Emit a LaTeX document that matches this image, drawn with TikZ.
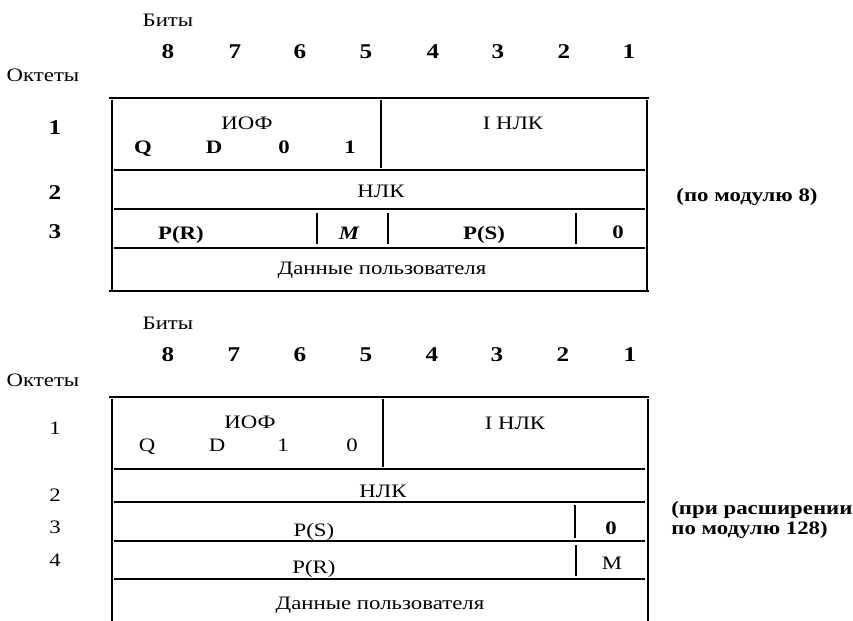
\documentclass[tikz,border=0pt]{standalone}
\usepackage{fontspec}
\setmainfont{Liberation Serif}[FakeStretch=1.2]
\tikzset{
    frameline/.style={line width=1.1pt},
    rowline/.style={line width=0.9pt},
    lbl/.style={inner sep=0pt, text height=0.66em, text depth=0pt, font=\fontsize{9.5}{11}\selectfont},
    blbl/.style={lbl, font=\fontsize{9.5}{11}\selectfont\bfseries},
    bitnum/.style={lbl, font=\fontsize{10.5}{12}\selectfont\bfseries},
}
\begin{document}
\begin{tikzpicture}[x=0.5pt, y=-0.5pt]
        \useasboundingbox (0, 0) rectangle (853, 621);
        %first table: headings
        \node[lbl] (bityA) at (168, 20) {Биты};
        \node[lbl] (oktA) at (43, 75) {Октеты};
        \node[bitnum] (bA8) at (168, 52) {8};
        \node[bitnum] (bA7) at (235, 52) {7};
        \node[bitnum] (bA6) at (300, 52) {6};
        \node[bitnum] (bA5) at (366, 52) {5};
        \node[bitnum] (bA4) at (433, 52) {4};
        \node[bitnum] (bA3) at (498, 52) {3};
        \node[bitnum] (bA2) at (564, 52) {2};
        \node[bitnum] (bA1) at (629, 52) {1};
        %first table: frame and rows
        \draw[frameline] (109, 98) -- (649, 98);
        \draw[frameline] (112, 100) -- (112, 291);
        \draw[frameline] (647, 100) -- (647, 291);
        \draw[frameline] (109, 291) -- (649, 291);
        \draw[rowline] (114, 170) -- (645, 170);
        \draw[rowline] (114, 209) -- (645, 209);
        \draw[rowline] (114, 248) -- (645, 248);
        \draw[rowline] (381, 100) -- (381, 168);
        \draw[rowline] (317, 213) -- (317, 244);
        \draw[rowline] (388, 213) -- (388, 244);
        \draw[rowline] (576, 213) -- (576, 244);
        %first table: octet numbers
        \node[bitnum] (oA1) at (55, 128) {1};
        \node[bitnum] (oA2) at (55, 193) {2};
        \node[bitnum] (oA3) at (55, 232) {3};
        %first table: fields
        \node[lbl] (iofA) at (247, 123) {ИОФ};
        \node[blbl] (qA) at (143, 147) {Q};
        \node[blbl] (dA) at (214, 147) {D};
        \node[blbl] (zA) at (284, 147) {0};
        \node[blbl] (eA) at (350, 147) {1};
        \node[lbl] (inlkA) at (513, 123) {I НЛК};
        \node[lbl] (nlkA) at (381, 191) {НЛК};
        \node[blbl] (prA) at (181, 233) {P(R)};
        \node[blbl] (mA) at (349, 233) {\itshape M};
        \node[blbl] (psA) at (484, 233) {P(S)};
        \node[blbl] (nA) at (618, 232) {0};
        \node[lbl] (dataA) at (382, 268) {Данные пользователя};
        \node[blbl] (modA) at (747, 195) {(по модулю 8)};
        %second table: headings
        \node[lbl] (bityB) at (168, 323) {Биты};
        \node[lbl] (oktB) at (43, 380) {Октеты};
        \node[bitnum] (bB8) at (168, 355) {8};
        \node[bitnum] (bB7) at (234, 355) {7};
        \node[bitnum] (bB6) at (300, 355) {6};
        \node[bitnum] (bB5) at (366, 355) {5};
        \node[bitnum] (bB4) at (432, 355) {4};
        \node[bitnum] (bB3) at (497, 355) {3};
        \node[bitnum] (bB2) at (563, 355) {2};
        \node[bitnum] (bB1) at (630, 355) {1};
        %second table: frame and rows
        \draw[frameline] (109, 397) -- (649, 397);
        \draw[frameline] (112, 399) -- (112, 621);
        \draw[frameline] (648, 399) -- (648, 621);
        \draw[rowline] (114, 469) -- (645, 469);
        \draw[rowline] (114, 502) -- (645, 502);
        \draw[rowline] (114, 541) -- (645, 541);
        \draw[rowline] (114, 579) -- (645, 579);
        \draw[rowline] (383, 399) -- (383, 467);
        \draw[rowline] (575, 505) -- (575, 538);
        \draw[rowline] (576, 545) -- (576, 576);
        %second table: octet numbers
        \node[lbl] (oB1) at (55, 428) {1};
        \node[lbl] (oB2) at (55, 495) {2};
        \node[lbl] (oB3) at (55, 527) {3};
        \node[lbl] (oB4) at (55, 560) {4};
        %second table: fields
        \node[lbl] (iofB) at (250, 422) {ИОФ};
        \node[lbl] (qB) at (147, 445) {Q};
        \node[lbl] (dB) at (217, 445) {D};
        \node[lbl] (eB) at (283, 445) {1};
        \node[lbl] (zB) at (352, 445) {0};
        \node[lbl] (inlkB) at (515, 423) {I НЛК};
        \node[lbl] (nlkB) at (383, 491) {НЛК};
        \node[lbl] (psB) at (314, 530) {P(S)};
        \node[blbl] (nB) at (611, 528) {0};
        \node[lbl] (prB) at (314, 567) {P(R)};
        \node[lbl] (mB) at (612, 563) {M};
        \node[lbl] (dataB) at (380, 603) {Данные пользователя};
        \node[blbl, anchor=west] (modB1) at (671, 508) {(при расширении};
        \node[blbl, anchor=west] (modB2) at (671, 528) {по модулю 128)};
    \end{tikzpicture}
\end{document}
